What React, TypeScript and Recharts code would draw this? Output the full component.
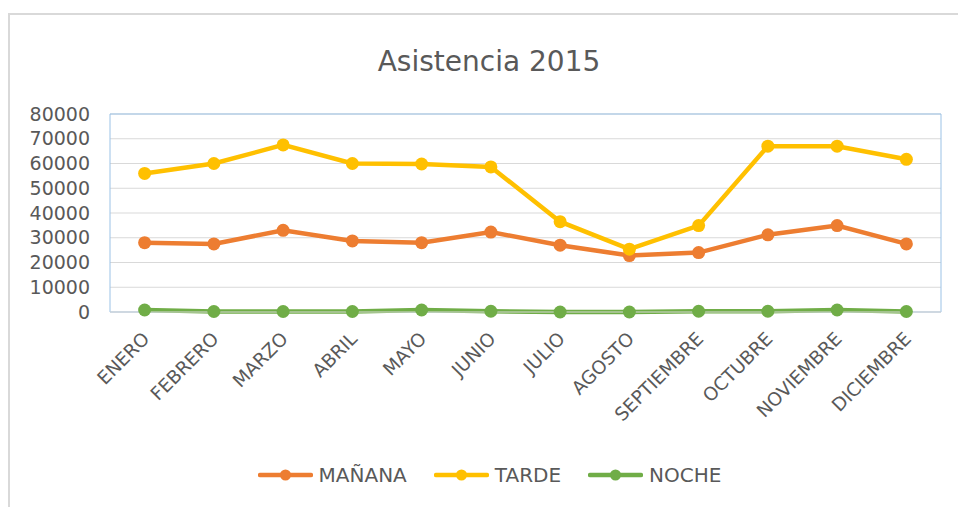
import { LineChart, Line, XAxis, YAxis, CartesianGrid, Legend, ReferenceArea } from 'recharts';

const months = [
  'ENERO', 'FEBRERO', 'MARZO', 'ABRIL', 'MAYO', 'JUNIO',
  'JULIO', 'AGOSTO', 'SEPTIEMBRE', 'OCTUBRE', 'NOVIEMBRE', 'DICIEMBRE',
];
const manana = [28000, 27500, 33000, 28700, 28000, 32300, 27000, 22800, 24000, 31200, 34900, 27500];
const tarde = [56000, 60000, 67500, 60000, 59800, 58600, 36500, 25400, 34900, 67000, 67000, 61700];
const noche = [800, 200, 200, 200, 800, 300, 0, 0, 300, 300, 800, 200];
const yTicks = [0, 10000, 20000, 30000, 40000, 50000, 60000, 70000, 80000];
const seriesNames = ['MAÑANA', 'TARDE', 'NOCHE'];

const FONT = '"DejaVu Sans", sans-serif';
const TEXT = '#595959';

const data = months.map((m, i) => ({
  month: m,
  manana: manana[i],
  tarde: tarde[i],
  noche: noche[i],
}));

const MonthTick = ({ x, y, payload }: any) => {
  const ax = x + 6;
  const ay = y + 26;
  return (
    <text
      x={ax}
      y={ay}
      transform={`rotate(-45 ${ax} ${ay})`}
      textAnchor="end"
      fill={TEXT}
      fontSize={18.5}
      fontFamily={FONT}
    >
      {payload.value}
    </text>
  );
};

const LegendContent = ({ payload }: any) => {
  const items = [...(payload || [])].sort(
    (a: any, b: any) => seriesNames.indexOf(a.value) - seriesNames.indexOf(b.value),
  );
  return (
    <div style={{ display: 'flex', justifyContent: 'center', gap: 27, paddingLeft: 28 }}>
      {items.map((p: any) => (
        <div key={p.value} style={{ display: 'flex', alignItems: 'center' }}>
          <svg width={55} height={14}>
            <line x1={2} y1={7} x2={53} y2={7} stroke={p.color} strokeWidth={4.5} strokeLinecap="round" />
            <circle cx={27.5} cy={7} r={5.5} fill={p.color} />
          </svg>
          <span style={{ marginLeft: 6, fontSize: 20, color: TEXT, fontFamily: FONT }}>{p.value}</span>
        </div>
      ))}
    </div>
  );
};

export default function App() {
  return (
    <div style={{ position: 'absolute', left: 0, top: 0, width: 958, height: 507, background: '#fff' }}>
      <div
        style={{
          position: 'absolute',
          left: 8,
          top: 13,
          right: 0,
          bottom: 0,
          borderLeft: '2px solid #D9D9D9',
          borderTop: '2px solid #D9D9D9',
        }}
      />
      <div
        style={{
          position: 'absolute',
          left: 0,
          top: 48,
          width: 978,
          textAlign: 'center',
          fontSize: 28,
          lineHeight: '28px',
          color: TEXT,
          fontFamily: FONT,
        }}
      >
        Asistencia 2015
      </div>
      <div style={{ position: 'absolute', left: 0, top: 0 }}>
        <LineChart width={958} height={507} data={data} margin={{ top: 114, right: 17, left: 10, bottom: 4 }}>
          <CartesianGrid vertical={false} stroke="#D9D9D9" strokeWidth={1} />
          <ReferenceArea y1={0} y2={80000} fill="none" stroke="#9BC2E6" strokeWidth={1} />
          <XAxis
            dataKey="month"
            scale="band"
            interval={0}
            height={151}
            tickLine={false}
            tickSize={0}
            tick={<MonthTick />}
            axisLine={{ stroke: '#D9D9D9' }}
          />
          <YAxis
            width={100}
            domain={[0, 80000]}
            ticks={yTicks}
            interval={0}
            tickLine={false}
            axisLine={false}
            tickSize={0}
            tickMargin={20}
            tick={{ fill: TEXT, fontSize: 19, fontFamily: FONT }}
          />
          <Legend verticalAlign="bottom" height={40} content={<LegendContent />} />
          <Line
            name="MAÑANA"
            dataKey="manana"
            stroke="#ED7D31"
            strokeWidth={4.5}
            dot={{ r: 6.5, fill: '#ED7D31', stroke: '#ED7D31', strokeWidth: 0 }}
            activeDot={false}
            isAnimationActive={false}
          />
          <Line
            name="TARDE"
            dataKey="tarde"
            stroke="#FFC000"
            strokeWidth={4.5}
            dot={{ r: 6.5, fill: '#FFC000', stroke: '#FFC000', strokeWidth: 0 }}
            activeDot={false}
            isAnimationActive={false}
          />
          <Line
            name="NOCHE"
            dataKey="noche"
            stroke="#70AD47"
            strokeWidth={4.5}
            dot={{ r: 6.5, fill: '#70AD47', stroke: '#70AD47', strokeWidth: 0 }}
            activeDot={false}
            isAnimationActive={false}
          />
        </LineChart>
      </div>
    </div>
  );
}
